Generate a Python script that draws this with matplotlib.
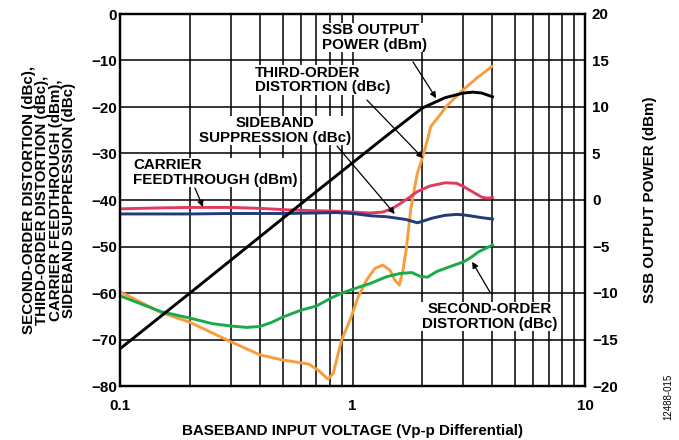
import matplotlib
matplotlib.use("Agg")
import matplotlib.pyplot as plt
from matplotlib.ticker import FixedLocator, NullFormatter, FixedFormatter

plt.rcParams['font.family'] = ['Liberation Sans', 'DejaVu Sans']
plt.rcParams['font.weight'] = 'bold'
plt.rcParams['axes.labelweight'] = 'bold'

# ---------------- data ----------------
x_ssb = [0.1, 0.2, 0.5, 1.0, 1.45, 2.0, 2.5, 3.0, 3.3, 3.6, 4.0]
ssb_power = [-16.0, -10.0, -2.0, 4.0, 7.2, 9.9, 11.0, 11.5, 11.6, 11.5, 11.1]

x_third = [0.1, 0.15, 0.2, 0.3, 0.4, 0.5, 0.6, 0.65, 0.72, 0.76, 0.785, 0.826, 0.898,
           0.976, 1.059, 1.15, 1.25, 1.35, 1.45, 1.52, 1.59, 1.65, 1.70, 1.74, 1.78,
           1.83, 1.9, 2.0, 2.1, 2.17, 2.38, 2.53, 2.99, 3.42, 3.97]
third_order = [-59.7, -64.2, -66.3, -70.5, -73.3, -74.4, -75.0, -75.3, -76.8, -77.9, -78.5,
               -77.3, -70.1, -65.8, -60.8, -57.2, -54.7, -54.0, -55.1, -57.2, -58.3, -55.0,
               -50.8, -46.5, -42.0, -38.6, -34.3, -30.9, -27.1, -24.2, -21.7, -19.9, -16.3,
               -13.8, -11.3]

x_carrier = [0.1, 0.15, 0.2, 0.3, 0.4, 0.52, 0.7, 0.85, 1.0, 1.19, 1.35, 1.5, 1.6, 1.75,
             1.9, 2.15, 2.5, 2.8, 3.0, 3.3, 3.6, 3.8, 4.0]
carrier_feedthrough = [-41.9, -41.7, -41.6, -41.6, -41.8, -42.1, -42.3, -42.4, -42.6, -42.8,
                       -42.6, -41.7, -40.8, -39.5, -38.2, -37.0, -36.3, -36.4, -37.1, -38.3,
                       -39.4, -39.6, -39.5]

x_sideband = [0.1, 0.2, 0.3, 0.5, 0.7, 0.85, 1.0, 1.2, 1.4, 1.55, 1.7, 1.9, 2.05, 2.2, 2.5,
              2.8, 3.0, 3.3, 3.6, 4.0]
sideband_suppression = [-43.0, -43.0, -42.9, -42.9, -42.8, -42.7, -42.9, -43.4, -43.6, -43.9,
                        -44.2, -44.9, -44.4, -43.9, -43.3, -43.1, -43.2, -43.5, -43.8, -44.1]

x_second = [0.1, 0.15, 0.2, 0.25, 0.3, 0.35, 0.4, 0.45, 0.5, 0.6, 0.7, 0.8, 0.9, 1.0, 1.2,
            1.4, 1.6, 1.8, 1.95, 2.1, 2.3, 2.6, 3.0, 3.2, 3.5, 4.0]
second_order = [-60.6, -64.0, -65.4, -66.6, -67.1, -67.4, -67.2, -66.3, -65.2, -63.7, -62.8,
                -61.2, -60.0, -59.2, -57.9, -56.5, -55.8, -55.6, -56.4, -56.6, -55.4, -54.4,
                -53.3, -52.5, -51.1, -49.7]

x_ticks = [0.1, 1, 10]
x_ticklabels = ['0.1', '1', '10']
left_ticks = [0, -10, -20, -30, -40, -50, -60, -70, -80]
right_ticks = [20, 15, 10, 5, 0, -5, -10, -15, -20]

# ---------------- figure ----------------
fig = plt.figure(figsize=(6.79, 4.40), dpi=100)
ax = fig.add_axes([120/679, 54/440, 465/679, 372/440])
ax.set_xscale('log')
ax.set_xlim(0.1, 10)
ax.set_ylim(-80, 0)
ax.set_yticks(left_ticks)
ax.set_yticklabels([f"{v}".replace('-', '\u2212') for v in left_ticks])
ax.xaxis.set_major_locator(FixedLocator(x_ticks))
ax.xaxis.set_major_formatter(FixedFormatter(x_ticklabels))
minor = [m * d for d in (0.1, 1) for m in range(2, 10)]
ax.xaxis.set_minor_locator(FixedLocator(minor))
ax.xaxis.set_minor_formatter(NullFormatter())
ax.grid(True, which='both', axis='x', color='black', lw=1.1, zorder=0)
ax.grid(True, which='major', axis='y', color='black', lw=1.1, zorder=0)
ax.set_axisbelow(True)
ax.tick_params(axis='both', which='both', length=0, labelsize=10.9)
ax.tick_params(axis='x', pad=9)
ax.tick_params(axis='y', pad=2)
for s in ax.spines.values():
    s.set_linewidth(1.6)

lw = 2.1
ax.plot(x_third, third_order, color='#F89C3C', lw=lw, zorder=3, solid_joinstyle='round')
ax.plot(x_second, second_order, color='#1BAA4A', lw=lw, zorder=3, solid_joinstyle='round')
ax.plot(x_carrier, carrier_feedthrough, color='#E23A5E', lw=lw, zorder=3, solid_joinstyle='round')
ax.plot(x_sideband, sideband_suppression, color='#22397A', lw=lw, zorder=3, solid_joinstyle='round')

ax2 = ax.twinx()
ax2.set_ylim(-20, 20)
ax2.set_yticks(right_ticks)
ax2.set_yticklabels([f"{v}".replace('-', '\u2212') for v in right_ticks])
ax2.tick_params(axis='y', length=0, labelsize=10.9, pad=5)
for s in ax2.spines.values():
    s.set_linewidth(1.6)
ax2.plot(x_ssb, ssb_power, color='black', lw=lw, zorder=3, solid_joinstyle='round')

# ---------------- labels ----------------
ax.set_xlabel('BASEBAND INPUT VOLTAGE (Vp-p Differential)', fontsize=10.9, labelpad=8)
ax.set_ylabel('SECOND-ORDER DISTORTION (dBc),\nTHIRD-ORDER DISTORTION (dBc),\n'
              'CARRIER FEEDTHROUGH (dBm),\nSIDEBAND SUPPRESSION (dBc)',
              fontsize=10.9, linespacing=0.95, labelpad=11)
ax2.set_ylabel('SSB OUTPUT POWER (dBm)', fontsize=10.9, labelpad=18)

fig.text(668/679, 1 - 397/440, '12488-015', rotation=90, fontsize=7, fontweight='normal',
         ha='center', va='center')

# ---------------- annotations ----------------
bbox = dict(facecolor='white', edgecolor='none', pad=0.5)
arrow = dict(arrowstyle='-|>', color='black', lw=0.9, mutation_scale=9, shrinkA=0, shrinkB=0)
fs = 10.9


def note(text, xy, xytext, txt_pos, ha):
    ax.text(txt_pos[0], txt_pos[1], text, ha=ha, va='center', multialignment=ha,
            fontsize=fs, linespacing=1.02, bbox=bbox, zorder=5)
    ax.annotate('', xy=xy, xytext=xytext, arrowprops=arrow, zorder=6)


note('SSB OUTPUT\nPOWER (dBm)', (2.29, -18.1), (1.82, -10.3), (0.74, -5.05), 'left')
note('THIRD-ORDER\nDISTORTION (dBc)', (2.01, -31.0), (1.154, -18.5), (0.381, -14.2), 'left')
note('SIDEBAND\nSUPPRESSION (dBc)', (1.52, -43.0), (0.858, -28.4), (0.464, -25.05), 'center')
note('CARRIER\nFEEDTHROUGH (dBm)', (0.2275, -41.5), (0.210, -37.4), (0.1137, -34.1), 'left')
note('SECOND-ORDER\nDISTORTION (dBc)', (3.27, -53.3), (3.90, -59.8), (3.90, -65.05), 'center')

fig.savefig('out.png', dpi=100)
